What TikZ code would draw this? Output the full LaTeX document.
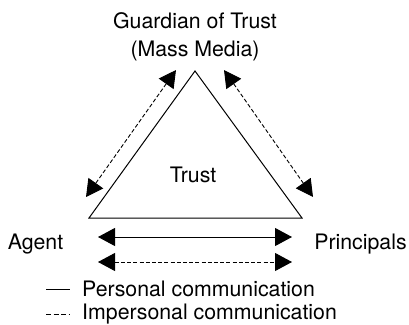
\documentclass[tikz,border=0pt]{standalone}
\usepackage{fontspec}
\setmainfont{TeX Gyre Heros}
\usetikzlibrary{arrows.meta}
\begin{document}
\begin{tikzpicture}[x=1pt,y=-1pt,
  lbl/.style={font=\fontsize{21.3}{25}\selectfont, inner sep=0pt, anchor=base},
  edge/.style={line width=1pt, line join=miter},
  link/.style={line width=1pt, {Triangle[length=17pt,width=18pt]}-{Triangle[length=17pt,width=18pt]}},
  dashlink/.style={link, line width=0.9pt, dash pattern=on 4pt off 2.2pt},
]
\useasboundingbox (0,0) rectangle (409,324);
% corners of the triangle
\coordinate (top) at (195,71);
\coordinate (bl) at (89,218);
\coordinate (br) at (302,218);
\draw[edge] (top) -- (bl) -- (br) -- cycle;
% labels
\node[lbl] (guard) at (195,28) {Guardian of Trust};
\node[lbl] (media) at (195,56) {(Mass Media)};
\node[lbl] (trust) at (193,182) {Trust};
\node[lbl] (agent) at (35.5,249) {Agent};
\node[lbl] (princ) at (360.5,249) {Principals};
% communication links
\coordinate (lt) at (176,70);
\coordinate (lb) at (86,197);
\coordinate (rt) at (224,70);
\coordinate (rb) at (313,197);
\draw[dashlink] (lt) -- (lb);
\draw[dashlink] (rt) -- (rb);
\coordinate (sa) at (98,237);
\coordinate (sb) at (292,237);
\coordinate (da) at (98,262);
\coordinate (db) at (292,262);
\draw[link] (sa) -- (sb);
\draw[dashlink] (da) -- (db);
% legend
\coordinate (l1a) at (46,289);
\coordinate (l1b) at (70,289);
\coordinate (l2a) at (46,314);
\coordinate (l2b) at (70,314);
\draw[line width=0.9pt] (l1a) -- (l1b);
\draw[line width=1pt, dash pattern=on 5pt off 2.5pt] (l2a) -- (l2b);
\node[lbl, anchor=base west] (pers) at (82,296) {Personal communication};
\node[lbl, anchor=base west] (impers) at (82,319.3) {Impersonal communication};
\end{tikzpicture}
\end{document}
